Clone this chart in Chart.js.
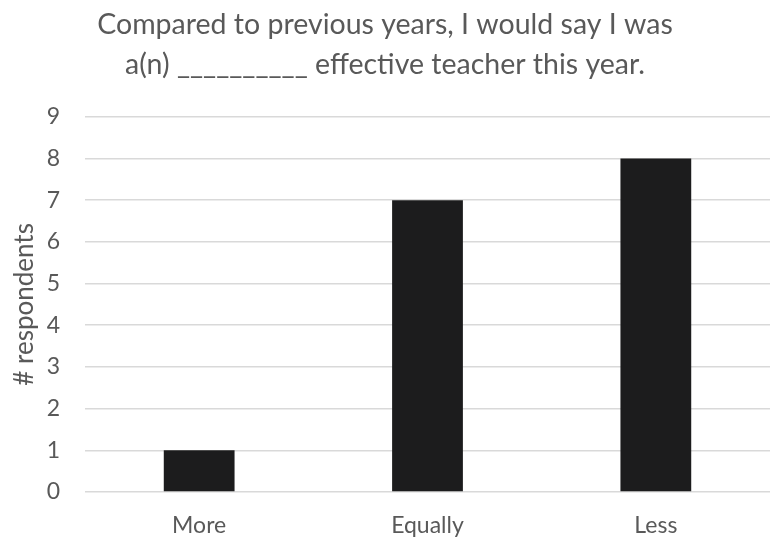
<!DOCTYPE html>
<html>
<head>
<meta charset="utf-8">
<script src="https://cdn.jsdelivr.net/npm/chart.js@4"></script>
<style>
    html, body { margin: 0; padding: 0; background: #ffffff; }
    #wrap { width: 773px; height: 540px; }
</style>
</head>
<body>
<div id="wrap"><canvas id="barChart" width="773" height="540"></canvas></div>
<script>
// Dados do gráfico
var categorias = ['More', 'Equally', 'Less'];
var respondentes = [1, 7, 8];
var ticksY = [0, 1, 2, 3, 4, 5, 6, 7, 8, 9];
var titulo = ['Compared to previous years, I would say I was', 'a(n) __________ effective teacher this year.'];

var corTexto = '#595959';
var fonte = 'Lato, "Open Sans", sans-serif';

// Gráfico de Barras
var ctx = document.getElementById('barChart').getContext('2d');
var barChart = new Chart(ctx, {
    type: 'bar',
    data: {
        labels: categorias,
        datasets: [
            {
                label: '# respondents',
                data: respondentes,
                backgroundColor: '#1c1c1d',
                categoryPercentage: 1,
                barPercentage: 0.31
            }
        ]
    },
    options: {
        responsive: false,
        animation: false,
        layout: {
            padding: { left: 0, right: 3, top: 0, bottom: 0 }
        },
        plugins: {
            legend: { display: false },
            tooltip: { enabled: false },
            title: {
                display: true,
                text: titulo,
                color: corTexto,
                font: { family: fonte, size: 28.5, weight: 'normal', lineHeight: 1.4 },
                padding: { top: 5, bottom: 32 }
            }
        },
        scales: {
            x: {
                grid: { display: false },
                border: { display: false },
                ticks: {
                    color: corTexto,
                    font: { family: fonte, size: 23 },
                    padding: 12
                },
                afterFit: function (scale) {
                    scale.height = 48;
                }
            },
            y: {
                min: ticksY[0],
                max: ticksY[ticksY.length - 1],
                afterBuildTicks: function (scale) {
                    scale.ticks = ticksY.map(function (v) { return { value: v }; });
                },
                grid: { color: '#d9d9d9', lineWidth: 1.5, drawTicks: false },
                border: { display: false },
                ticks: {
                    color: corTexto,
                    font: { family: fonte, size: 23 },
                    padding: 25
                },
                title: {
                    display: true,
                    text: '# respondents',
                    color: corTexto,
                    font: { family: fonte, size: 26 },
                    padding: { top: 9, bottom: 4 }
                },
                afterFit: function (scale) {
                    scale.width = 85;
                }
            }
        }
    }
});
</script>
</body>
</html>
